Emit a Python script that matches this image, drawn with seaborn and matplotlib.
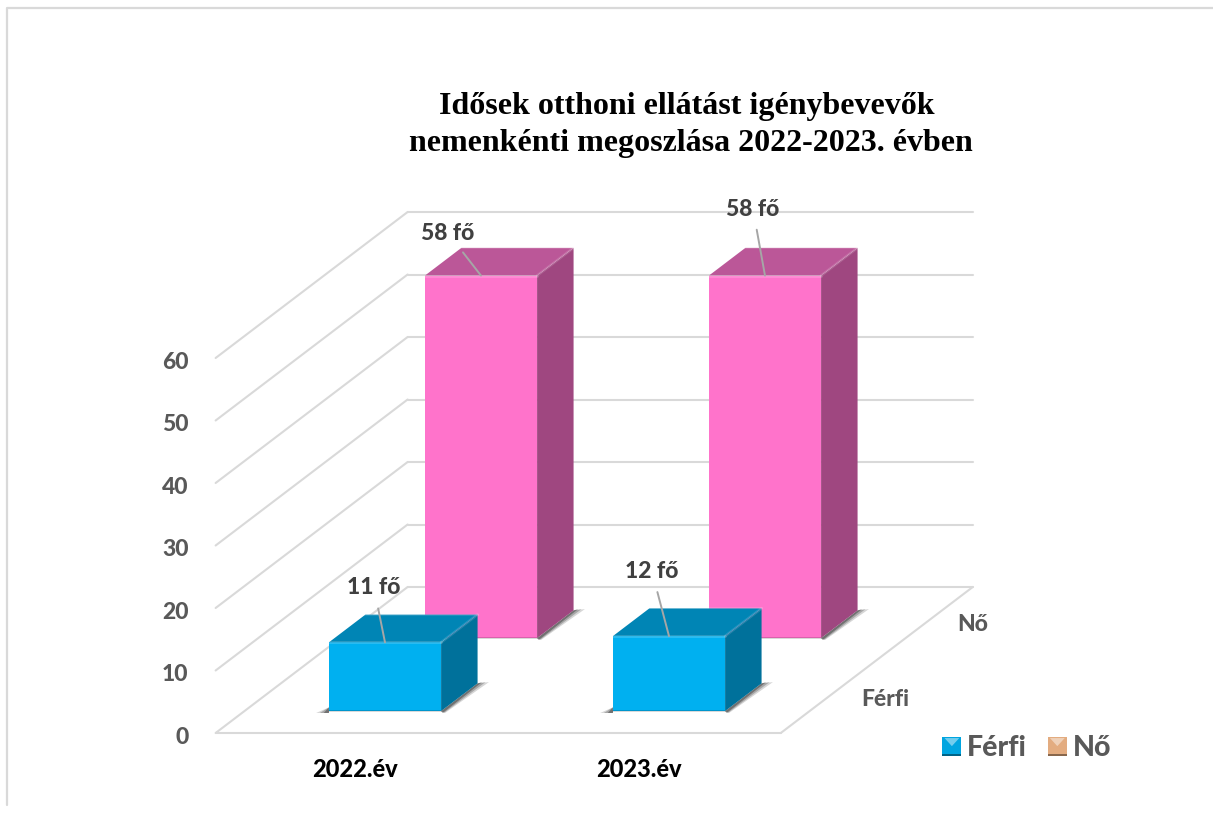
import numpy as np
import matplotlib
matplotlib.use('Agg')
import matplotlib.pyplot as plt
import seaborn as sns
from matplotlib.legend_handler import HandlerBase
from matplotlib.lines import Line2D
from matplotlib.patches import Patch, Polygon

# Chart values
years = ["2022.év", "2023.év"]
ferfi = [11, 12]
no = [58, 58]
rows = ["Férfi", "Nő"]
value_ticks = [0, 10, 20, 30, 40, 50, 60]
title = "Idősek otthoni ellátást igénybevevők \nnemenkénti megoszlása 2022-2023. évben"

# Label offsets from the bar top, in pixels (x right, y up)
label_offsets = {"Férfi": [(-11, 44), (-17, 54)], "Nő": [(-33, 32), (-12, 56)]}
row_label_offsets = {"Férfi": (56, -3), "Nő": (48, -1)}

# Face colours: front, side, top
row_colors = {"Férfi": ("#00B0F0", "#00719B", "#0085B5"),
              "Nő": ("#FF73CB", "#9F4780", "#BB5798")}
legend_colors = {"Férfi": "#00A5E0", "Nő": "#E3AC80"}
GRID = "#D9D9D9"
GRAY = "#595959"
LABEL = "#404040"
HEAVY = 900

# Oblique projection of the chart depth onto the page
W, H = 1213, 830
PX_CAT = 284     # pixels per category
PX_VAL = 6.25    # pixels per value unit
X0, Y0 = 356.2, 733
DX = 96 / PX_CAT   # x shift per depth unit
DY = 73 / PX_VAL   # y shift per depth unit
BAR_W = 0.395
BAR_D = 0.38


def skew(x, y, d):
    return x + d * DX, y + d * DY


class BevelHandler(HandlerBase):
    # little bevelled square like the Excel legend key
    def create_artists(self, legend, orig, xd, yd, width, height, fontsize, trans):
        c = orig.get_facecolor()
        s = height * 0.95
        x0, y0 = xd * -1 + width - s, -yd + 0.02 * height
        x1, y1 = x0 + s, y0 + s
        m = s * 0.5
        base = Polygon([(x0, y0), (x1, y0), (x1, y1), (x0, y1)], fc=c, ec="none", transform=trans)
        top = Polygon([(x0 + 1.5, y1 - 1), (x1 - 1.5, y1 - 1), (x0 + m, y0 + m)], fc=(1, 1, 1, 0.45), ec="none", transform=trans)
        bot = Polygon([(x0, y0), (x1, y0), (x1, y0 + 1.5), (x0, y0 + 1.5)], fc=(0, 0, 0, 0.4), ec="none", transform=trans)
        return [base, top, bot]


sns.set_theme(style="white")
plt.rcParams['font.family'] = ['Lato', 'DejaVu Sans']

fig = plt.figure(figsize=(W / 100, H / 100), dpi=100)
ax = fig.add_axes([0, 0, 1, 1])

# walls and floor
xl, xr = -0.495, 1.495
for v in value_ticks:
    wx, wy = skew(xl, v, 2)
    ax.plot([xl, wx], [v, wy], color=GRID, lw=1.5, zorder=0)
    ax.plot([wx, skew(xr, v, 2)[0]], [wy, wy], color=GRID, lw=1.5, zorder=0)
ax.plot([xl, xr], [0, 0], color=GRID, lw=1.5, zorder=0)
ax.plot([xr, skew(xr, 0, 2)[0]], [0, skew(xr, 0, 2)[1]], color=GRID, lw=1.5, zorder=0)

pos = np.arange(len(years))

# back row first, so the front row covers it
for name, vals, row in [("Nő", no, 1), ("Férfi", ferfi, 0)]:
    front, side, top = row_colors[name]
    d0 = row + 0.5 - 0.2
    d1 = d0 + BAR_D
    xs = [skew(p, 0, d0)[0] for p in pos]
    base = skew(0, 0, d0)[1]
    z = 3 + (1 - row) * 2

    # soft shadow behind the bar foot
    for x, v in zip(xs, vals):
        r = x + BAR_W / 2
        l = x - BAR_W / 2
        for grow, alpha in [(1.0, 0.16), (0.7, 0.22), (0.4, 0.32)]:
            p1 = (r, base)
            p2 = (r + (d1 - d0) * DX, base + (d1 - d0) * DY)
            p3 = (p2[0] + grow * 0.04, p2[1] + 0.2)
            p4 = (r + grow * 0.014, base - 0.3)
            ax.fill(*zip(p1, p2, p3, p4), color="black", alpha=alpha, lw=0, zorder=z - 0.5)
            ax.fill([l - grow * 0.045, l, l], [base - 0.3, base + 0.6, base - 0.3],
                    color="black", alpha=alpha, lw=0, zorder=z - 0.5)

    # front faces through seaborn
    sns.barplot(x=xs, y=vals, native_scale=True, width=BAR_W, bottom=base, color=front,
                saturation=1, linewidth=0, zorder=z, ax=ax)

    for x, v, off in zip(xs, vals, label_offsets[name]):
        l, r = x - BAR_W / 2, x + BAR_W / 2
        b, t = base, base + v
        ddx, ddy = (d1 - d0) * DX, (d1 - d0) * DY
        # side and top faces
        ax.fill([r, r + ddx, r + ddx, r], [b, b + ddy, t + ddy, t], color=side, lw=0, zorder=z)
        ax.fill([l, r, r + ddx, l + ddx], [t, t, t + ddy, t + ddy], color=top, lw=0, zorder=z)
        # bevel highlights on the edges
        ax.plot([l, r], [t, t], color="white", alpha=0.18, lw=2, zorder=z + 0.1)
        ax.plot([r, r + ddx], [t, t + ddy], color="white", alpha=0.15, lw=2, zorder=z + 0.1)
        ax.plot([l + ddx, r + ddx], [t + ddy, t + ddy], color="white", alpha=0.12, lw=1.5, zorder=z + 0.1)
        ax.plot([l, r], [b, b], color="black", alpha=0.18, lw=1.2, zorder=z + 0.1)
        # value label with its leader line
        ax.annotate(f"{v} fő", xy=(x, t), xytext=off, textcoords="offset pixels",
                    ha="center", va="bottom", fontsize=16.5, fontweight=HEAVY, color=LABEL,
                    arrowprops=dict(arrowstyle="-", color="#A6A6A6", lw=1.4, shrinkA=5, shrinkB=0),
                    zorder=z + 1)

# axis labels
for v in value_ticks:
    ax.annotate(str(v), xy=(xl, v), xytext=(-27, -4), textcoords="offset pixels", ha="right", va="center",
                fontsize=16.5, fontweight=HEAVY, color=GRAY)
for p, lab in zip(pos, years):
    ax.annotate(lab, xy=(p, 0), xytext=(-1, -36), textcoords="offset pixels", ha="center", va="center",
                fontsize=17, fontweight=HEAVY, color="black")
for i, lab in enumerate(rows):
    px, py = skew(xr, 0, i + 0.5)
    ax.annotate(lab, xy=(px, py), xytext=row_label_offsets[lab], textcoords="offset pixels", ha="center", va="center",
                fontsize=16.5, fontweight=HEAVY, color=GRAY)

ax.set_xlim((0 - X0) / PX_CAT, (W - X0) / PX_CAT)
ax.set_ylim((Y0 - H) / PX_VAL, Y0 / PX_VAL)
ax.axis("off")

# title
fig.text(691 / W, 1 - 125 / H, title, ha="center", va="center", family="Liberation Serif",
         fontweight="bold", fontsize=23, color="black", linespacing=1.33)

# legend
handles = [Patch(facecolor=legend_colors[r], label=r) for r in rows]
fig.legend(handles=handles, loc="center left", bbox_to_anchor=(940 / W, 1 - 748 / H), ncol=2, frameon=False,
           handler_map={Patch: BevelHandler()}, prop={"family": "Lato", "weight": HEAVY, "size": 20.5},
           labelcolor=GRAY, handlelength=0.75, handletextpad=0.2, columnspacing=0.65, borderpad=0, borderaxespad=0)

# outer frame, cut off at the right and bottom
fig.add_artist(Line2D([7 / W, 7 / W, 1], [1 - 805 / H, 1 - 8 / H, 1 - 8 / H], color=GRID, lw=1.6))

fig.savefig("out.png", dpi=100)
